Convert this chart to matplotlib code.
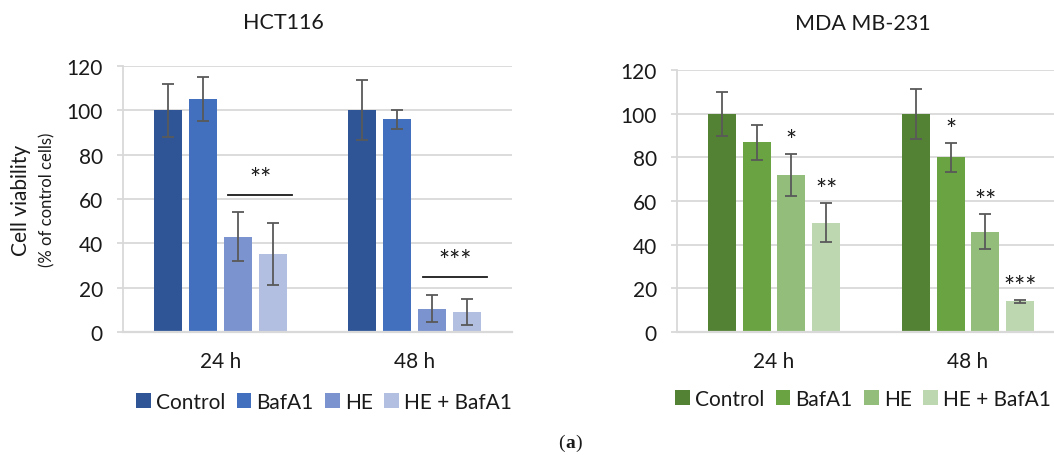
import matplotlib
matplotlib.use("Agg")
import matplotlib.pyplot as plt
import matplotlib.transforms as mtransforms
import numpy as np

plt.rcParams['font.family'] = ['Lato', 'DejaVu Sans']

# ---------------- data ----------------
timepoints = ["24 h", "48 h"]
treatments = ["Control", "BafA1", "HE", "HE + BafA1"]

hct_title = "HCT116"
hct_means = {
    "Control":    [100, 100],
    "BafA1":      [105, 96],
    "HE":         [43, 10.5],
    "HE + BafA1": [35, 9],
}
hct_errs = {
    "Control":    [12, 13.5],
    "BafA1":      [10, 4.2],
    "HE":         [11, 6],
    "HE + BafA1": [14, 6],
}
# significance brackets for HCT116: timepoint index, line level, label
hct_sig_groups = [0, 1]
hct_sig_levels = [62, 25]
hct_sig_labels = ["**", "***"]

mda_title = "MDA MB-231"
mda_means = {
    "Control":    [100, 100],
    "BafA1":      [87, 80],
    "HE":         [72, 46],
    "HE + BafA1": [50, 14],
}
mda_errs = {
    "Control":    [10, 11.5],
    "BafA1":      [8, 6.5],
    "HE":         [9.5, 8],
    "HE + BafA1": [9, 0.8],
}
mda_stars = {
    "Control":    ["", ""],
    "BafA1":      ["", "*"],
    "HE":         ["*", "**"],
    "HE + BafA1": ["**", "***"],
}

blue_colors = ["#2F5597", "#4270BF", "#7B94D0", "#B3BFE0"]
green_colors = ["#548235", "#6AA342", "#93BD7B", "#BDD7B1"]

yticks = [0, 20, 40, 60, 80, 100, 120]

# ---------------- figure ----------------
W, H = 1054, 456
fig = plt.figure(figsize=(W / 100, H / 100), dpi=100)

grid_c = "#D9D9D9"
err_c = "#595959"
txt_c = "#1a1a1a"
FS = 15
STAR_FS = 19

bar_w = 0.144
offsets = np.array([-0.27, -0.09, 0.09, 0.27])
x = np.arange(len(timepoints))


def make_axes(left_px, top_px, right_px, bottom_px):
    return fig.add_axes([left_px / W, 1 - bottom_px / H,
                         (right_px - left_px) / W, (bottom_px - top_px) / H])


def style(ax):
    ax.set_xlim(-0.5, len(timepoints) - 0.5)
    ax.set_ylim(0, 120)
    ax.set_yticks(yticks)
    ax.set_yticklabels([str(t) for t in yticks], fontsize=FS, color=txt_c)
    ax.set_xticks(x)
    ax.set_xticklabels(timepoints, fontsize=FS, color=txt_c)
    ax.tick_params(axis="x", length=0, pad=14)
    ax.tick_params(axis="y", length=4.5, color=grid_c, width=1.3, pad=10)
    ax.yaxis.grid(True, color=grid_c, linewidth=1.3)
    ax.set_axisbelow(True)
    for s in ["top", "right"]:
        ax.spines[s].set_visible(False)
    ax.spines["left"].set_color(grid_c)
    ax.spines["left"].set_linewidth(1.3)
    ax.spines["bottom"].set_color(grid_c)
    ax.spines["bottom"].set_linewidth(1.6)


def draw_bars(ax, means, errs, colors):
    handles = []
    for i, t in enumerate(treatments):
        b = ax.bar(x + offsets[i], means[t], bar_w, color=colors[i],
                   yerr=errs[t], ecolor=err_c,
                   error_kw=dict(elinewidth=1.3, capsize=4, capthick=1.3),
                   label=t, zorder=2)
        handles.append(b)
    return handles


def star_text(ax, xv, yv, label):
    # place the asterisk glyph centre at about (xv, yv)
    off = mtransforms.offset_copy(ax.transData, fig=fig, x=0, y=-0.6 * STAR_FS, units="points")
    ax.text(xv, yv, label, ha="center", va="baseline", fontsize=STAR_FS,
            color=txt_c, transform=off)


def legend(handles, cx, cy):
    fig.legend(handles, treatments, loc="center", bbox_to_anchor=(cx / W, 1 - cy / H),
               ncol=4, frameon=False, fontsize=FS, handlelength=0.7, handleheight=0.7,
               handletextpad=0.25, columnspacing=0.55, borderaxespad=0, borderpad=0,
               labelcolor=txt_c)


# ---------- HCT116 ----------
ax1 = make_axes(123, 67, 512, 333)
style(ax1)
h1 = draw_bars(ax1, hct_means, hct_errs, blue_colors)
for g, lvl, lab in zip(hct_sig_groups, hct_sig_levels, hct_sig_labels):
    x0 = g + offsets[2] - 0.05
    x1 = g + offsets[3] + 0.10
    ax1.plot([x0, x1], [lvl, lvl], color=txt_c, lw=1.3, zorder=3)
    star_text(ax1, (x0 + x1) / 2, lvl + 10.5, lab)
fig.text(283 / W, 1 - 23 / H, hct_title, fontsize=FS + 0.5, ha="center", va="center", color=txt_c)
fig.text(21 / W, 1 - 200 / H, "Cell viability", rotation=90, fontsize=FS,
         ha="center", va="center", color=txt_c)
fig.text(47 / W, 1 - 200 / H, "(% of control cells)", rotation=90, fontsize=12,
         ha="center", va="center", color=txt_c)
legend(h1, 324, 403)

# ---------- MDA MB-231 ----------
ax2 = make_axes(677, 71, 1065, 333)
style(ax2)
h2 = draw_bars(ax2, mda_means, mda_errs, green_colors)
for i, t in enumerate(treatments):
    for j in range(len(timepoints)):
        lab = mda_stars[t][j]
        if lab:
            top = mda_means[t][j] + mda_errs[t][j]
            star_text(ax2, j + offsets[i], top + 9.5, lab)
fig.text(863 / W, 1 - 24 / H, mda_title, fontsize=FS + 0.5, ha="center", va="center", color=txt_c)
legend(h2, 863, 400)

# ---------- panel label ----------
base_y = 1 - 448 / H
fig.text(565 / W, base_y, "(", fontsize=14, family="Liberation Serif",
         ha="right", va="baseline", color=txt_c)
fig.text(565.5 / W, base_y, "a", fontsize=14, family="Liberation Serif",
         fontweight="bold", ha="left", va="baseline", color=txt_c)
fig.text(575 / W, base_y, ")", fontsize=14, family="Liberation Serif",
         ha="left", va="baseline", color=txt_c)

fig.savefig("out.png", dpi=100, facecolor="white")
